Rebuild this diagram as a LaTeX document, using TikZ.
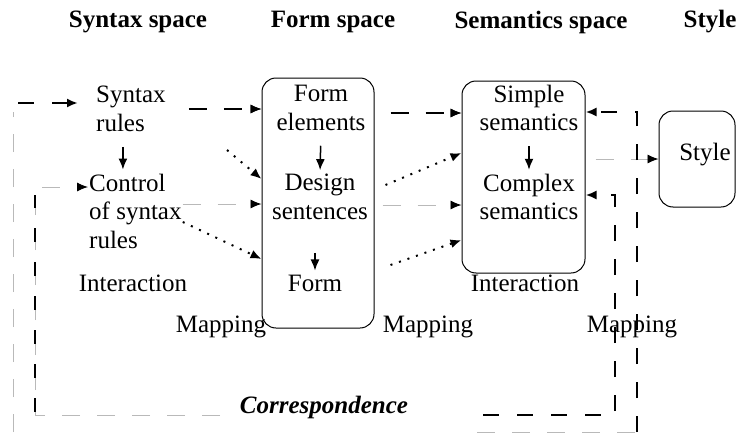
\documentclass[tikz,border=0pt]{standalone}
\usepackage{fontspec}
\setmainfont{Liberation Serif}
\usetikzlibrary{arrows.meta,positioning}
\tikzset{
	txt/.style={inner sep=1pt, font=\fontsize{25}{28.5}\selectfont},
	head/.style={inner sep=1pt, font=\fontsize{25}{28.5}\selectfont\bfseries},
	spacebox/.style={draw, line width=1pt, rounded corners=14pt, inner sep=0pt},
	tip/.style={-{Latex[black,length=11pt,width=9pt]}},
	corr/.style={line width=2.5pt, dash pattern=on 16pt off 18pt},
	faint/.style={gray!55, line width=0.9pt, dash pattern=on 18pt off 17pt},
	dots/.style={line width=2pt, dash pattern=on 2pt off 7pt},
	mixed/.style={preaction={draw, faint}, line width=2.5pt, dash pattern=on 18pt off 17pt, dash phase=-10pt},
}
\begin{document}
\begin{tikzpicture}[x=1pt, y=-1pt]
	\useasboundingbox (0,0) rectangle (740,434);
	\node[head] (synhead) at (138,22) {Syntax space};
	\node[head] (formhead) at (333,22) {Form space};
	\node[head] (semhead) at (541,22) {Semantics space};
	\node[head] (stylehead) at (710,22) {Style};
	\node[spacebox, minimum width=112pt, minimum height=250pt] (formbox) at (318,203) {};
	\node[spacebox, minimum width=123pt, minimum height=192pt] (sembox) at (523.5,177) {};
	\node[spacebox, minimum width=76pt, minimum height=96pt] (stylebox) at (697,159) {};
	\node[txt, align=left, anchor=west] (syntax) at (95,109) {Syntax\\rules};
	\node[txt, align=left, anchor=west] (control) at (88,211) {Control\\of syntax\\rules};
	\node[txt] (interl) at (133,283) {Interaction};
	\node[txt] (mapl) at (221,327) {Mapping};
	\node[txt, align=center] (formel) at (321,108) {Form\\elements};
	\node[txt, align=center] (design) at (320,197) {Design\\sentences};
	\node[txt] (form) at (315,283) {Form};
	\node[txt, align=center] (simple) at (529,108) {Simple\\semantics};
	\node[txt, align=center] (complex) at (529,197) {Complex\\semantics};
	\node[txt] (interr) at (525,283) {Interaction};
	\node[txt] (mapm) at (428,327) {Mapping};
	\node[txt] (mapr) at (632,327) {Mapping};
	\node[txt] (style) at (705,155) {Style};
	\node[txt, font=\fontsize{25}{28.5}\selectfont\bfseries\itshape] (corr) at (324,407) {Correspondence};
	\coordinate (o1) at (18,103);
	\coordinate (o2) at (13,432);
	\coordinate (d1) at (227,150);
	\coordinate (c1) at (483,415);
	\coordinate (c2) at (220,415);
	\coordinate (c3) at (477,432);
	\draw[tip, line width=1.5pt, shorten <=14pt, shorten >=3pt] (formel.south) -- (design.north);
	\draw[tip, line width=1.5pt, shorten <=32pt, shorten >=3pt] (form.north |- design.south) -- (form.north);
	\draw[tip, line width=1.5pt, shorten <=14pt, shorten >=3pt] (simple.south) -- (complex.north);
	\draw[tip, line width=1.5pt, shorten <=14pt, shorten >=3pt] ([xshift=-8pt]syntax.south) -- ([xshift=-8pt]syntax.south |- control.north);
	\draw[mixed, tip] ([xshift=12pt]syntax.east) -- (formbox.west |- syntax.east);
	\draw[dots, tip] (d1) -- ([yshift=24pt]formbox.west);
	\draw[faint, tip] ([yshift=7pt]control.east) -- ([yshift=-1pt]formbox.west);
	\draw[dots, tip] ([yshift=-11pt]control.east) -- ([yshift=-56pt]formbox.west);
	\draw[mixed, tip] ([xshift=6pt,yshift=90pt]formbox.east) -- ([yshift=64pt]sembox.west);
	\draw[dots, tip] ([xshift=11pt,yshift=18pt]formbox.east) -- ([yshift=24pt]sembox.west);
	\draw[faint, tip] ([xshift=8pt,yshift=-2pt]formbox.east) -- ([yshift=-28pt]sembox.west);
	\draw[dots, tip] ([xshift=16pt,yshift=-62pt]formbox.east) -- ([yshift=-63pt]sembox.west);
	\draw[faint, tip] ([xshift=10pt]sembox.east |- stylebox.west) -- (stylebox.west);
	\draw[corr, tip] (c1) -- (615,415) -- (615,195) -- ([yshift=-18pt]sembox.east);
	\draw[faint, tip] (c2) -- (35,415) -- (35,187) -- ([yshift=24pt]control.west);
	\draw[line width=2.5pt, dash pattern=on 14pt off 20pt] (35,412) -- (35,195);
	\draw[corr, tip] (637,432) -- (637,112) -- ([yshift=65pt]sembox.east);
	\draw[faint] (c3) -- (637,432);
	\draw[faint] (o2) -- (13,112);
	\draw[corr, tip] (o1) -- ([xshift=-17pt,yshift=6pt]syntax.west);
\end{tikzpicture}
\end{document}
